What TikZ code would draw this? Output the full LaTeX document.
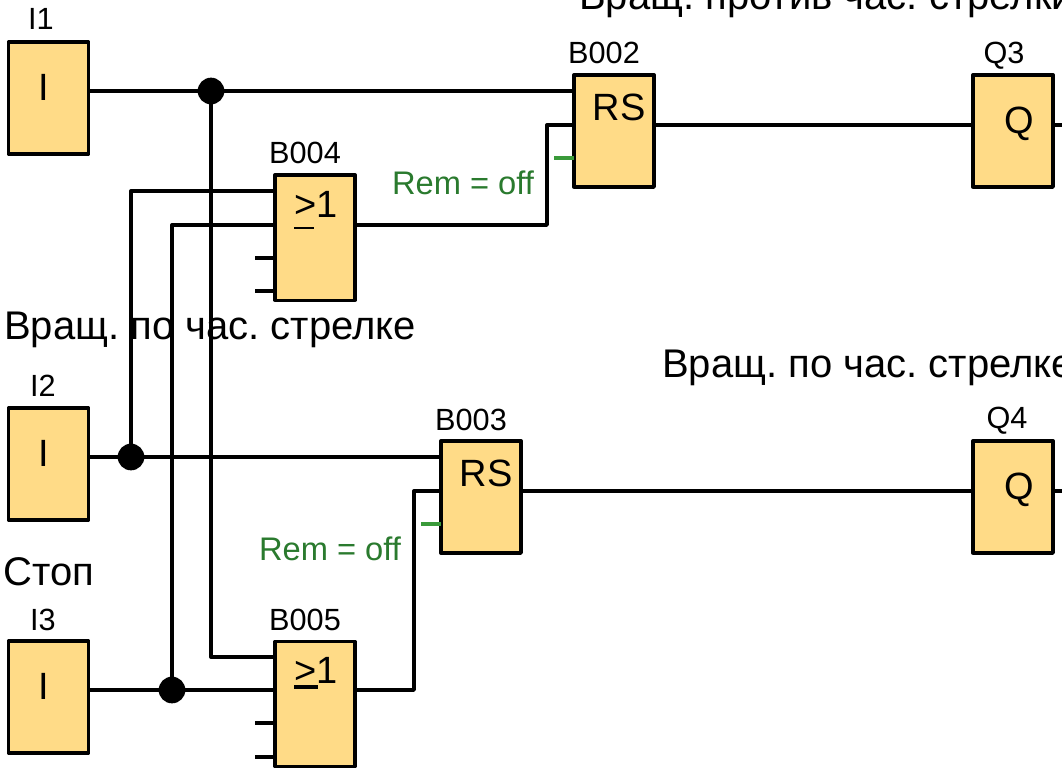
\documentclass[tikz,border=0pt]{standalone}
\usepackage{fontspec}
\setmainfont{Liberation Sans}
\usetikzlibrary{positioning}

\definecolor{blockfill}{HTML}{FFDB87}
\definecolor{remgreen}{HTML}{2A7A2E}
\definecolor{stubgreen}{HTML}{3A9A3A}

\newcommand{\orgate}[3]{\rlap{\rule[-#1]{#2}{#3}}>1}

\tikzset{
    blockbox/.style={draw, fill=blockfill, line width=2.5pt, line join=round, minimum width=60pt, minimum height=84pt, inner sep=0pt},
    orbox/.style={blockbox, minimum height=94pt},
    wire/.style={line width=2.5pt, line join=round},
    greenwire/.style={line width=2.5pt, draw=stubgreen},
    junction/.style={circle, fill=black, inner sep=0pt, minimum size=20pt},
    blocklabel/.style={font=\fontsize{23}{23}\selectfont, inner sep=0pt},
    blocktext/.style={font=\fontsize{28.5}{28.5}\selectfont, inner sep=0pt},
    signaltext/.style={font=\fontsize{30}{30}\selectfont\frenchspacing, inner sep=0pt, anchor=west},
    remtext/.style={font=\fontsize{24.5}{24.5}\selectfont, text=remgreen, inner sep=0pt}
}

\begin{document}
\begin{tikzpicture}[x=0.75pt, y=-0.75pt]
    \useasboundingbox (0,0) rectangle (1062,767);
    \clip (0,0) rectangle (1062,767);

    % Signal names
    \node[signaltext] (nameqthree) at (579,0) {Вращ. против час. стрелки};
    \node[signaltext] (nameitwo) at (4,330) {Вращ. по час. стрелке};
    \node[signaltext] (nameqfour) at (662,368) {Вращ. по час. стрелке};
    \node[signaltext] (nameithree) at (3,572) {Стоп};

    % Blocks
    \node[blockbox] (i1) at (48.5,98) {};
    \node[blockbox] (i2) at (48.5,464) {};
    \node[blockbox] (i3) at (48.5,697) {};
    \node[orbox] (b004) at (315,237.5) {};
    \node[orbox] (b005) at (315,704) {};
    \node[blockbox] (b002) at (614,131) {};
    \node[blockbox] (b003) at (481,497) {};
    \node[blockbox] (q3) at (1013,131) {};
    \node[blockbox] (q4) at (1013,497) {};

    % Block names
    \node[blocklabel] (li1) at (41,19) {I1};
    \node[blocklabel] (li2) at (43,386) {I2};
    \node[blocklabel] (li3) at (43,620) {I3};
    \node[blocklabel] (lb004) at (305,153) {B004};
    \node[blocklabel] (lb005) at (305,620) {B005};
    \node[blocklabel] (lb002) at (604,53) {B002};
    \node[blocklabel] (lb003) at (471,420) {B003};
    \node[blocklabel] (lq3) at (1004,56) {Q3};
    \node[blocklabel] (lq4) at (1007,421) {Q4};

    % Block texts
    \node[blocktext] (ti1) at (44,87) {I};
    \node[blocktext] (ti2) at (44,453) {I};
    \node[blocktext] (ti3) at (44,686) {I};
    \node[blocktext, anchor=base] (tb004) at (316,217) {\orgate{9pt}{15pt}{1.5pt}};
    \node[blocktext, anchor=base] (tb005) at (316,683) {\orgate{4.5pt}{18pt}{3pt}};
    \node[blocktext] (tb002) at (619,107) {RS};
    \node[blocktext] (tb003) at (486,473) {RS};
    \node[blocktext] (tq3) at (1019,124) {Q};
    \node[blocktext] (tq4) at (1019,490) {Q};

    % Rem labels
    \node[remtext] (remb002) at (463,183) {Rem = off};
    \node[remtext] (remb003) at (330,549) {Rem = off};

    % Pins
    \coordinate (b002s) at (574,91);
    \coordinate (b002r) at (574,125);
    \coordinate (b002g) at (574,158);
    \coordinate (b002gend) at (554,158);
    \coordinate (b003s) at (441,457);
    \coordinate (b003r) at (441,491);
    \coordinate (b003g) at (441,524);
    \coordinate (b003gend) at (421,524);
    \coordinate (b004a) at (275,191);
    \coordinate (b004b) at (275,225);
    \coordinate (b004c) at (275,258);
    \coordinate (b004cend) at (255,258);
    \coordinate (b004d) at (275,291);
    \coordinate (b004dend) at (255,291);
    \coordinate (b005a) at (275,657);
    \coordinate (b005b) at (275,690);
    \coordinate (b005c) at (275,723);
    \coordinate (b005cend) at (255,723);
    \coordinate (b005d) at (275,757);
    \coordinate (b005dend) at (255,757);
    \coordinate (q3out) at (1062,125);
    \coordinate (q4out) at (1062,491);
    \coordinate (b004turn) at (547,225);
    \coordinate (b005turn) at (414,690);

    % Junctions
    \node[junction] (j1) at (211,91) {};
    \node[junction] (j2) at (131,457) {};
    \node[junction] (j3) at (172,690) {};

    % Connections
    \draw[wire] (i1.east |- j1) to (j1.center);
    \draw[wire] (j1.center) to (b002s);
    \draw[wire] (j1.center) |- (b005a);
    \draw[wire] (i2.east |- j2) to (j2.center);
    \draw[wire] (j2.center) to (b003s);
    \draw[wire] (j2.center) |- (b004a);
    \draw[wire] (i3.east |- j3) to (j3.center);
    \draw[wire] (j3.center) to (b005b);
    \draw[wire] (j3.center) |- (b004b);
    \draw[wire] (b004.east |- b004turn) -- (b004turn) |- (b002r);
    \draw[wire] (b005.east |- b005turn) -- (b005turn) |- (b003r);
    \draw[wire] (b002.east |- b002r) to (q3.west |- b002r);
    \draw[wire] (b003.east |- b003r) to (q4.west |- b003r);
    \draw[wire] (q3.east |- q3out) to (q3out);
    \draw[wire] (q4.east |- q4out) to (q4out);
    \draw[wire] (b004cend) to (b004c);
    \draw[wire] (b004dend) to (b004d);
    \draw[wire] (b005cend) to (b005c);
    \draw[wire] (b005dend) to (b005d);
    \draw[greenwire] (b002gend) to (b002g);
    \draw[greenwire] (b003gend) to (b003g);
\end{tikzpicture}
\end{document}
